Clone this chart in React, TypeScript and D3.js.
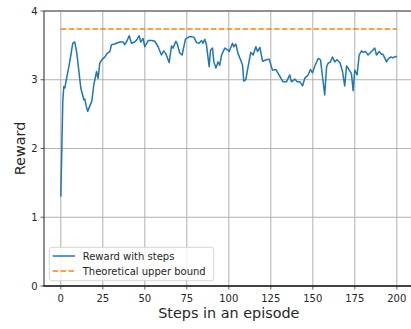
import React from "react";
import * as d3 from "d3";

const steps = [0, 1.2, 1.8, 2.4, 3.6, 4.8, 6.0, 7.1, 8.3, 9.5, 10.7, 11.9, 13.7, 14.3, 15.1, 16.0, 17.3, 18.5, 19.6, 21.3, 22.2, 23.2, 24.7, 26.2, 27.4, 29.2, 30.2, 32.1, 35.1, 37.1, 38.1, 39.3, 40.7, 42.1, 44.0, 45.2, 46.6, 47.6, 49.0, 50.0, 52.0, 54.2, 56.0, 57.9, 59.9, 61.3, 62.5, 64.5, 65.9, 66.8, 68.5, 69.2, 70.8, 72.2, 74.2, 76.8, 79.2, 80.8, 82.3, 83.8, 84.7, 85.7, 86.7, 88.3, 89.1, 90.3, 91.1, 92.3, 93.6, 94.6, 95.7, 97.6, 99.6, 100.2, 102.2, 103.0, 104.2, 105.5, 107.0, 108.2, 108.9, 110.1, 111.5, 113.1, 114.5, 116.1, 117.1, 118.5, 120.1, 122.4, 124.0, 126.0, 128.0, 130.4, 132.3, 134.3, 136.3, 137.3, 139.3, 140.7, 142.3, 143.9, 145.2, 147.2, 148.6, 149.8, 151.2, 153.2, 154.6, 155.8, 157.1, 158.2, 159.1, 160.5, 161.7, 163.1, 164.4, 166.1, 167.7, 169.0, 170.1, 171.0, 172.0, 173.0, 174.0, 175.0, 176.4, 177.6, 179.0, 179.9, 181.5, 182.9, 184.9, 186.9, 187.9, 189.5, 190.9, 191.8, 193.9, 194.8, 196.3, 197.8, 199.4, 200];
const rewards = [1.30, 2.70, 2.90, 2.88, 3.04, 3.19, 3.36, 3.53, 3.55, 3.39, 3.14, 2.88, 2.71, 2.72, 2.62, 2.54, 2.62, 2.69, 2.92, 3.12, 3.02, 3.24, 3.30, 3.33, 3.38, 3.41, 3.51, 3.52, 3.55, 3.55, 3.51, 3.56, 3.64, 3.53, 3.55, 3.58, 3.64, 3.55, 3.60, 3.48, 3.57, 3.57, 3.56, 3.48, 3.36, 3.42, 3.38, 3.25, 3.49, 3.46, 3.56, 3.53, 3.39, 3.36, 3.59, 3.63, 3.62, 3.54, 3.53, 3.57, 3.53, 3.59, 3.51, 3.19, 3.43, 3.46, 3.26, 3.17, 3.26, 3.21, 3.36, 3.46, 3.43, 3.41, 3.53, 3.48, 3.52, 3.38, 3.29, 3.21, 2.98, 3.00, 3.19, 3.40, 3.36, 3.48, 3.41, 3.47, 3.27, 3.29, 3.30, 3.14, 3.15, 3.05, 2.97, 2.97, 3.07, 2.97, 3.01, 2.97, 2.97, 2.91, 3.02, 3.07, 3.15, 3.10, 3.20, 3.31, 3.29, 3.04, 2.78, 3.19, 3.24, 3.26, 3.33, 3.26, 3.29, 3.25, 3.12, 2.91, 3.20, 3.17, 3.13, 3.09, 2.84, 3.14, 3.07, 3.36, 3.42, 3.40, 3.41, 3.36, 3.41, 3.46, 3.36, 3.41, 3.37, 3.37, 3.26, 3.30, 3.33, 3.32, 3.34, 3.33];
const upperBound = 3.74;
const boundSteps = [0, 200];
const xTicks = [0, 25, 50, 75, 100, 125, 150, 175, 200];
const yTicks = [0, 1, 2, 3, 4];
const seriesLabels = ["Reward with steps", "Theoretical upper bound"];
const xLabel = "Steps in an episode";
const yLabel = "Reward";

const W = 411;
const H = 329;
const font = "DejaVu Sans, Liberation Sans, sans-serif";

export default function App() {
  const x = d3.scaleLinear().domain([-10, 210]).range([44, 413.6]);
  const y = d3.scaleLinear().domain([0, 4]).range([286, 11]);
  const pts: [number, number][] = steps.map((s, i) => [s, rewards[i]]);
  const line = d3
    .line<[number, number]>()
    .x((d) => x(d[0]))
    .y((d) => y(d[1]));
  const blue = "#1f77b4";
  const orange = "#ff7f0e";
  const grid = "#b0b0b0";
  const [x0, x1] = x.range();
  const [yb, yt] = y.range();
  return (
    <svg
      width={W}
      height={H}
      style={{ position: "absolute", left: 0, top: 0, background: "#fff" }}
      fontFamily={font}
    >
      <rect x={0} y={0} width={W} height={H} fill="#fff" />
      {xTicks.map((t) => (
        <line key={"gx" + t} x1={x(t)} x2={x(t)} y1={yb} y2={yt} stroke={grid} strokeWidth={1} />
      ))}
      {yTicks.map((t) => (
        <line key={"gy" + t} x1={x0} x2={x1} y1={y(t)} y2={y(t)} stroke={grid} strokeWidth={1} />
      ))}
      <line
        x1={x(boundSteps[0])}
        x2={x(boundSteps[1])}
        y1={y(upperBound)}
        y2={y(upperBound)}
        stroke={orange}
        strokeWidth={1.5}
        strokeDasharray="5.5 2.4"
      />
      <path d={line(pts) || ""} fill="none" stroke={blue} strokeWidth={1.5} strokeLinejoin="round" />
      {/* spines */}
      <line x1={x0} x2={x0} y1={yb} y2={yt} stroke="#6a6a6a" strokeWidth={1.5} />
      <line x1={x0} x2={x1} y1={yt} y2={yt} stroke="#4a4a4a" strokeWidth={1.2} />
      <line x1={x0 - 0.75} x2={x1} y1={yb} y2={yb} stroke="#111" strokeWidth={1.5} />
      {/* ticks */}
      {yTicks.map((t) => (
        <g key={"ty" + t}>
          <line x1={x0 - 3.5} x2={x0} y1={y(t)} y2={y(t)} stroke="#333" strokeWidth={0.8} />
          <text x={x0 - 6.5} y={y(t)} dy="0.35em" textAnchor="end" fontSize={10} fill="#262626">
            {t}
          </text>
        </g>
      ))}
      {xTicks.map((t) => (
        <g key={"tx" + t}>
          <line x1={x(t)} x2={x(t)} y1={yb} y2={yb + 3.5} stroke="#333" strokeWidth={0.8} />
          <text x={x(t)} y={yb + 15.5} textAnchor="middle" fontSize={10} fill="#262626">
            {t}
          </text>
        </g>
      ))}
      <text x={(x(-10) + x(210)) / 2 + 0} y={318} textAnchor="middle" fontSize={14.4} fill="#262626">
        {xLabel}
      </text>
      <text
        transform={`translate(25,${(yb + yt) / 2}) rotate(-90)`}
        textAnchor="middle"
        fontSize={14.4}
        fill="#262626"
      >
        {yLabel}
      </text>
      {/* legend */}
      <rect x={49.3} y={247.3} width={164.4} height={33.4} rx={2.5} fill="#fff" fillOpacity={0.8} stroke="#cccccc" strokeWidth={0.8} />
      <line x1={52.7} x2={75} y1={256} y2={256} stroke={blue} strokeWidth={1.5} />
      <line x1={52.7} x2={75} y1={271} y2={271} stroke={orange} strokeWidth={1.5} strokeDasharray="5.5 2.4" />
      <text x={82.7} y={256} dy="0.35em" fontSize={10} fill="#262626">
        {seriesLabels[0]}
      </text>
      <text x={82.7} y={271} dy="0.35em" fontSize={10} fill="#262626">
        {seriesLabels[1]}
      </text>
    </svg>
  );
}
